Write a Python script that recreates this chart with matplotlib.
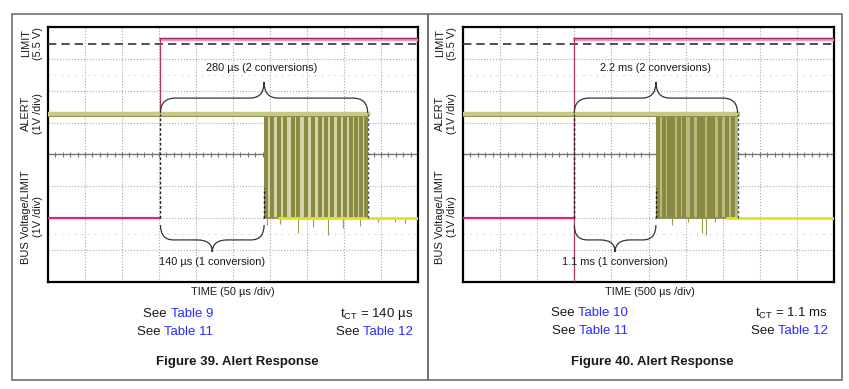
import numpy as np
import matplotlib.pyplot as plt
from matplotlib.path import Path
from matplotlib.patches import PathPatch, Rectangle

plt.rcParams['font.family'] = ['Liberation Sans', 'DejaVu Sans']
plt.rcParams['mathtext.fontset'] = 'custom'
plt.rcParams['mathtext.rm'] = 'Liberation Sans'

W, H = 849, 389

# trace levels in scope divisions (8 vertical divs, 0 = bottom edge)
limit_ref = 7.46      # dashed 5.5 V line
limit_level = 7.62
alert_high = 5.27
bus_level = 2.0

# Figure 39, 50 us/div
f39_span = 500
f39_events = [152, 292, 432]          # limit step, first alert pulse, last pulse (us)
f39_red_bottom = alert_high
f39_yellow_from = 312
f39_pulses = [295, 303, 312, 320, 331, 338, 349, 358, 368, 376, 384, 393, 401, 410, 416, 423, 430]
f39_spike_t = [296, 314, 338, 358, 378, 399, 422, 446, 469, 482]
f39_spike_y = [1.79, 1.82, 1.54, 1.72, 1.47, 1.69, 1.76, 1.88, 1.88, 1.85]

# Figure 40, 500 us/div
f40_span = 5000
f40_events = [1500, 2600, 3700]
f40_red_bottom = 0
f40_yellow_from = 3558
f40_pulses = [2628, 2709, 2777, 2830, 2911, 2979, 3086, 3181, 3235, 3316, 3370, 3464, 3558, 3639]
f40_spike_t = [2817, 3032, 3221, 3275, 3396]
f40_spike_y = [1.79, 1.88, 1.54, 1.47, 1.88]

BLUE = '#2a2aff'
INK = '#1a1a1a'

fig = plt.figure(figsize=(W / 100, H / 100), dpi=100)
renderer = fig.canvas.get_renderer()


def px(x, y):
    return x / W, 1 - y / H


def brace(ax, x0, x1, xc, yb, ym, yt, w_end, w_tip):
    verts = [(x0, yb), (x0, ym), (x0 + w_end, ym),
             (xc - w_tip, ym), (xc, ym), (xc, yt),
             (xc, ym), (xc + w_tip, ym),
             (x1 - w_end, ym), (x1, ym), (x1, yb)]
    codes = [Path.MOVETO, Path.CURVE3, Path.CURVE3,
             Path.LINETO, Path.CURVE3, Path.CURVE3,
             Path.CURVE3, Path.CURVE3,
             Path.LINETO, Path.CURVE3, Path.CURVE3]
    ax.add_patch(PathPatch(Path(verts, codes), fill=False, color='#333333', lw=0.9, zorder=6))


def scope(rect, span, events, red_bottom, yellow_from, pulses, spike_t, spike_y,
          fill_col, bar_col, bar_px):
    ax = fig.add_axes(rect)
    ax.set_xlim(0, span)
    ax.set_ylim(0, 8)
    ax.set_xticks(np.linspace(0, span, 11)[1:-1])
    ax.set_yticks(range(1, 8))
    ax.tick_params(length=0, labelbottom=False, labelleft=False)
    ax.grid(True, color='#a8a8a8', ls=':', lw=0.8)
    for s in ax.spines.values():
        s.set_linewidth(1.6)
        s.set_color('black')
    for yy in (6.5, 1.5):
        ax.axhline(yy, color='#c4c4c4', ls=(0, (1, 5)), lw=0.8)
    ax.axhline(4, color='#777777', lw=1)
    ax.vlines(np.arange(0, span, span / 50), 3.92, 4.08, color='#777777', lw=0.8)

    t_step, t_alert, t_end = events
    upx = span / 370  # data units per pixel

    # limit reference and limit trace
    ax.axhline(limit_ref, color='#333333', ls=(0, (5, 3)), lw=1.2, zorder=3)
    ax.plot([t_step, span], [limit_level, limit_level], color='#e89ac0', lw=2.4, zorder=4)
    ax.plot([t_step, span], [limit_level + 0.03, limit_level + 0.03], color='#a82a5c', lw=1, zorder=4)
    ax.plot([t_step, t_step], [red_bottom, limit_level], color='#b03868', lw=0.9, zorder=4)

    # bus voltage before the step
    ax.plot([0, t_step], [bus_level, bus_level], color='#e8207a', lw=1.6, zorder=4)

    # alert burst
    ax.fill_between([t_alert, t_end], bus_level, alert_high, color=fill_col, lw=0, zorder=3)
    ax.bar(pulses, alert_high - bus_level, bottom=bus_level, width=bar_px * upx,
           color=bar_col, lw=0, zorder=3)
    ax.plot([t_alert, t_end], [bus_level, bus_level], color=bar_col, lw=1.2, zorder=3)
    ax.vlines(spike_t, spike_y, bus_level, color='#9a9a50', lw=0.8, zorder=3)
    ax.plot([yellow_from, span], [bus_level, bus_level], color='#e4e41a', lw=2, zorder=5)

    # alert line
    ax.plot([0, t_end], [alert_high, alert_high], color='#c8c888', lw=3.2, zorder=5)
    ax.plot([0, t_end], [alert_high - 0.05, alert_high - 0.05], color='#8e8e42', lw=0.7, zorder=5)

    # dashed markers
    ax.plot([t_step, t_step], [bus_level, alert_high], color='#222222', ls=(0, (2, 1.5)), lw=1, zorder=6)
    ax.plot([t_alert, t_alert], [bus_level, 2.95], color='#222222', ls=(0, (2, 1.5)), lw=1, zorder=6)
    ax.plot([t_end, t_end], [bus_level, alert_high], color='#555555', ls=(0, (2, 1.5)), lw=1, zorder=6)

    brace(ax, t_step, t_end, (t_step + t_end) / 2, alert_high + 0.03, 5.77, 6.27, 15 * upx, 14 * upx)
    brace(ax, t_step, t_alert, (t_step + t_alert) / 2, 1.79, 1.32, 0.94, 13 * upx, 15 * upx)
    return ax


def see_table(x_right, y, label, size=9.5):
    t = fig.text(*px(x_right, y), label, color=BLUE, ha='right', va='center', fontsize=size)
    bb = t.get_window_extent(renderer)
    fig.text(bb.x0 / fig.bbox.width, 1 - y / H, 'See ', color=INK, ha='right', va='center', fontsize=size)


def ylabels(xc):
    for yc, s in [(43, 'LIMIT\n(5.5 V)'), (113, 'ALERT\n(1V /div)'), (217, 'BUS Voltage/LIMIT\n(1V /div)')]:
        fig.text(*px(xc, yc), s, rotation=90, ha='center', va='center', ma='center',
                 fontsize=7.9, color=INK, linespacing=1.25)


# panel frames
for x0, x1 in [(12, 428), (428, 842)]:
    fig.patches.append(Rectangle(px(x0, 380), (x1 - x0) / W, 366 / H, transform=fig.transFigure,
                                 fill=False, ec='#707070', lw=1.2))

ax1 = scope([48 / W, 1 - 282 / H, 370 / W, 255 / H], f39_span, f39_events, f39_red_bottom,
            f39_yellow_from, f39_pulses, f39_spike_t, f39_spike_y, '#d4d4aa', '#8a8a40', 4)
ax2 = scope([463 / W, 1 - 282 / H, 371 / W, 255 / H], f40_span, f40_events, f40_red_bottom,
            f40_yellow_from, f40_pulses, f40_spike_t, f40_spike_y, '#b9b982', '#8a8a42', 3.5)

ylabels(32)
ylabels(446)

fig.text(*px(262, 68), '280 µs (2 conversions)', ha='center', va='center', fontsize=7.9, color=INK)
fig.text(*px(212, 262), '140 µs (1 conversion)', ha='center', va='center', fontsize=7.9, color=INK)
fig.text(*px(233, 292), 'TIME (50 µs /div)', ha='center', va='center', fontsize=7.9, color=INK)
fig.text(*px(655, 68), '2.2 ms (2 conversions)', ha='center', va='center', fontsize=7.9, color=INK)
fig.text(*px(615, 262), '1.1 ms (1 conversion)', ha='center', va='center', fontsize=7.9, color=INK)
fig.text(*px(650, 292), 'TIME (500 µs /div)', ha='center', va='center', fontsize=7.9, color=INK)

see_table(213, 314, 'Table 9')
see_table(213, 332, 'Table 11')
see_table(413, 332, 'Table 12')
fig.text(*px(413, 314), r't$_{\mathrm{CT}}$ = 140 µs', ha='right', va='center', fontsize=9.5, color=INK)

see_table(628, 313, 'Table 10')
see_table(628, 331, 'Table 11')
see_table(828, 331, 'Table 12')
fig.text(*px(828, 313), r't$_{\mathrm{CT}}$ = 1.1 ms', ha='right', va='center', fontsize=9.5, color=INK)

fig.text(*px(237, 362), 'Figure 39. Alert Response', ha='center', va='center', fontsize=9.5,
         fontweight='bold', color=INK)
fig.text(*px(652, 362), 'Figure 40. Alert Response', ha='center', va='center', fontsize=9.5,
         fontweight='bold', color=INK)

fig.savefig('out.png', dpi=100)
